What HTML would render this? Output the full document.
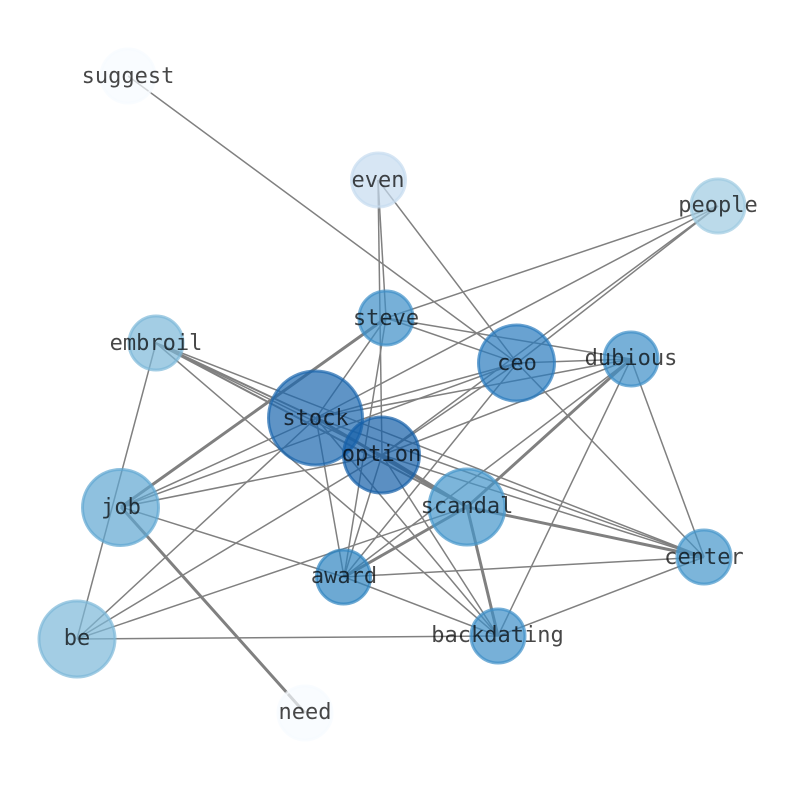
<!DOCTYPE html>
<html><head><meta charset="utf-8"><style>
html,body{margin:0;padding:0;background:#fff;width:794px;height:790px;overflow:hidden}
svg{display:block}
text{font-family:"DejaVu Sans Mono","Liberation Mono",monospace;font-size:22px;text-anchor:middle;fill:#000;fill-opacity:.72}
.n circle{stroke-width:3}
</style></head><body>
<svg width="794" height="790" viewBox="0 0 794 790" xmlns="http://www.w3.org/2000/svg">
<g stroke="#808080" stroke-width="1.5" fill="none">
<line x1="128" y1="76" x2="517" y2="363"/>
<line x1="378" y1="180" x2="386" y2="318"/>
<line x1="378" y1="180" x2="382" y2="455"/>
<line x1="378" y1="180" x2="517" y2="363"/>
<line x1="718" y1="206" x2="386" y2="318"/>
<line x1="718" y1="206" x2="316" y2="418"/>
<line x1="718" y1="206" x2="382" y2="455"/>
<line x1="718" y1="206" x2="517" y2="363"/>
<line x1="386" y1="318" x2="517" y2="363"/>
<line x1="386" y1="318" x2="631" y2="359"/>
<line x1="386" y1="318" x2="316" y2="418"/>
<line x1="386" y1="318" x2="344" y2="577"/>
<line x1="517" y1="363" x2="631" y2="359"/>
<line x1="517" y1="363" x2="316" y2="418"/>
<line x1="517" y1="363" x2="382" y2="455"/>
<line x1="517" y1="363" x2="121" y2="507"/>
<line x1="517" y1="363" x2="344" y2="577"/>
<line x1="517" y1="363" x2="704" y2="557"/>
<line x1="631" y1="359" x2="316" y2="418"/>
<line x1="631" y1="359" x2="382" y2="455"/>
<line x1="631" y1="359" x2="344" y2="577"/>
<line x1="631" y1="359" x2="704" y2="557"/>
<line x1="631" y1="359" x2="498" y2="636"/>
<line x1="156" y1="343" x2="77" y2="639"/>
<line x1="156" y1="343" x2="498" y2="636"/>
<line x1="156" y1="343" x2="382" y2="455"/>
<line x1="156" y1="343" x2="704" y2="557"/>
<line x1="316" y1="418" x2="121" y2="507"/>
<line x1="316" y1="418" x2="77" y2="639"/>
<line x1="316" y1="418" x2="344" y2="577"/>
<line x1="316" y1="418" x2="498" y2="636"/>
<line x1="316" y1="418" x2="704" y2="557"/>
<line x1="382" y1="455" x2="121" y2="507"/>
<line x1="382" y1="455" x2="77" y2="639"/>
<line x1="382" y1="455" x2="344" y2="577"/>
<line x1="382" y1="455" x2="498" y2="636"/>
<line x1="382" y1="455" x2="704" y2="557"/>
<line x1="467" y1="507" x2="77" y2="639"/>
<line x1="121" y1="507" x2="344" y2="577"/>
<line x1="344" y1="577" x2="498" y2="636"/>
<line x1="344" y1="577" x2="704" y2="557"/>
<line x1="704" y1="557" x2="498" y2="636"/>
<line x1="77" y1="639" x2="498" y2="636"/>
</g>
<g stroke="#808080" stroke-width="2" fill="none">
<line x1="156" y1="343" x2="316" y2="418"/>
<line x1="156" y1="343" x2="467" y2="507"/>
</g>
<g stroke="#808080" stroke-width="3" fill="none">
<line x1="386" y1="318" x2="121" y2="507"/>
<line x1="121" y1="507" x2="305" y2="713"/>
<line x1="316" y1="418" x2="467" y2="507"/>
<line x1="382" y1="455" x2="467" y2="507"/>
<line x1="631" y1="359" x2="467" y2="507"/>
<line x1="467" y1="507" x2="344" y2="577"/>
<line x1="467" y1="507" x2="704" y2="557"/>
<line x1="467" y1="507" x2="498" y2="636"/>
</g>
<g class="n">
<circle cx="128" cy="76" r="27" fill="#f7fbff" fill-opacity=".7" stroke="#f7fbff" stroke-opacity=".7"/>
<circle cx="305" cy="713" r="27" fill="#f7fbff" fill-opacity=".7" stroke="#f7fbff" stroke-opacity=".7"/>
<circle cx="378.5" cy="180" r="27" fill="#c6dbef" fill-opacity=".7" stroke="#c6dbef" stroke-opacity=".7"/>
<circle cx="718" cy="206" r="27" fill="#9ecae1" fill-opacity=".7" stroke="#9ecae1" stroke-opacity=".7"/>
<circle cx="156" cy="343" r="27" fill="#7cb8d9" fill-opacity=".7" stroke="#7cb8d9" stroke-opacity=".7"/>
<circle cx="77" cy="639" r="38" fill="#7cb8d9" fill-opacity=".7" stroke="#7cb8d9" stroke-opacity=".7"/>
<circle cx="120.5" cy="507.5" r="38" fill="#60a7d2" fill-opacity=".7" stroke="#60a7d2" stroke-opacity=".7"/>
<circle cx="386" cy="318" r="27" fill="#3d8fc7" fill-opacity=".7" stroke="#3d8fc7" stroke-opacity=".7"/>
<circle cx="631" cy="359" r="27" fill="#3d8fc7" fill-opacity=".7" stroke="#3d8fc7" stroke-opacity=".7"/>
<circle cx="704" cy="557" r="27" fill="#4496cb" fill-opacity=".7" stroke="#4496cb" stroke-opacity=".7"/>
<circle cx="467" cy="507" r="38" fill="#4496cb" fill-opacity=".7" stroke="#4496cb" stroke-opacity=".7"/>
<circle cx="498" cy="636" r="27" fill="#3d8fc7" fill-opacity=".7" stroke="#3d8fc7" stroke-opacity=".7"/>
<circle cx="343.5" cy="577" r="27" fill="#2f85c1" fill-opacity=".7" stroke="#2f85c1" stroke-opacity=".7"/>
<circle cx="516.5" cy="363" r="38" fill="#2a7bbd" fill-opacity=".7" stroke="#2a7bbd" stroke-opacity=".7"/>
<circle cx="315.5" cy="418" r="47" fill="#1b67ae" fill-opacity=".7" stroke="#1b67ae" stroke-opacity=".7"/>
<circle cx="381.5" cy="455" r="38" fill="#1560a8" fill-opacity=".7" stroke="#1560a8" stroke-opacity=".7"/>
</g>
<g>
<text x="128" y="83">suggest</text>
<text x="378" y="187">even</text>
<text x="718" y="212">people</text>
<text x="386" y="325">steve</text>
<text x="517" y="370">ceo</text>
<text x="631" y="365">dubious</text>
<text x="156" y="350">embroil</text>
<text x="315.5" y="425">stock</text>
<text x="381.5" y="461">option</text>
<text x="121" y="514">job</text>
<text x="467" y="513">scandal</text>
<text x="704" y="564">center</text>
<text x="344" y="583">award</text>
<text x="77" y="645">be</text>
<text x="497.5" y="642">backdating</text>
<text x="305" y="719">need</text>
</g>
</svg>
</body></html>
